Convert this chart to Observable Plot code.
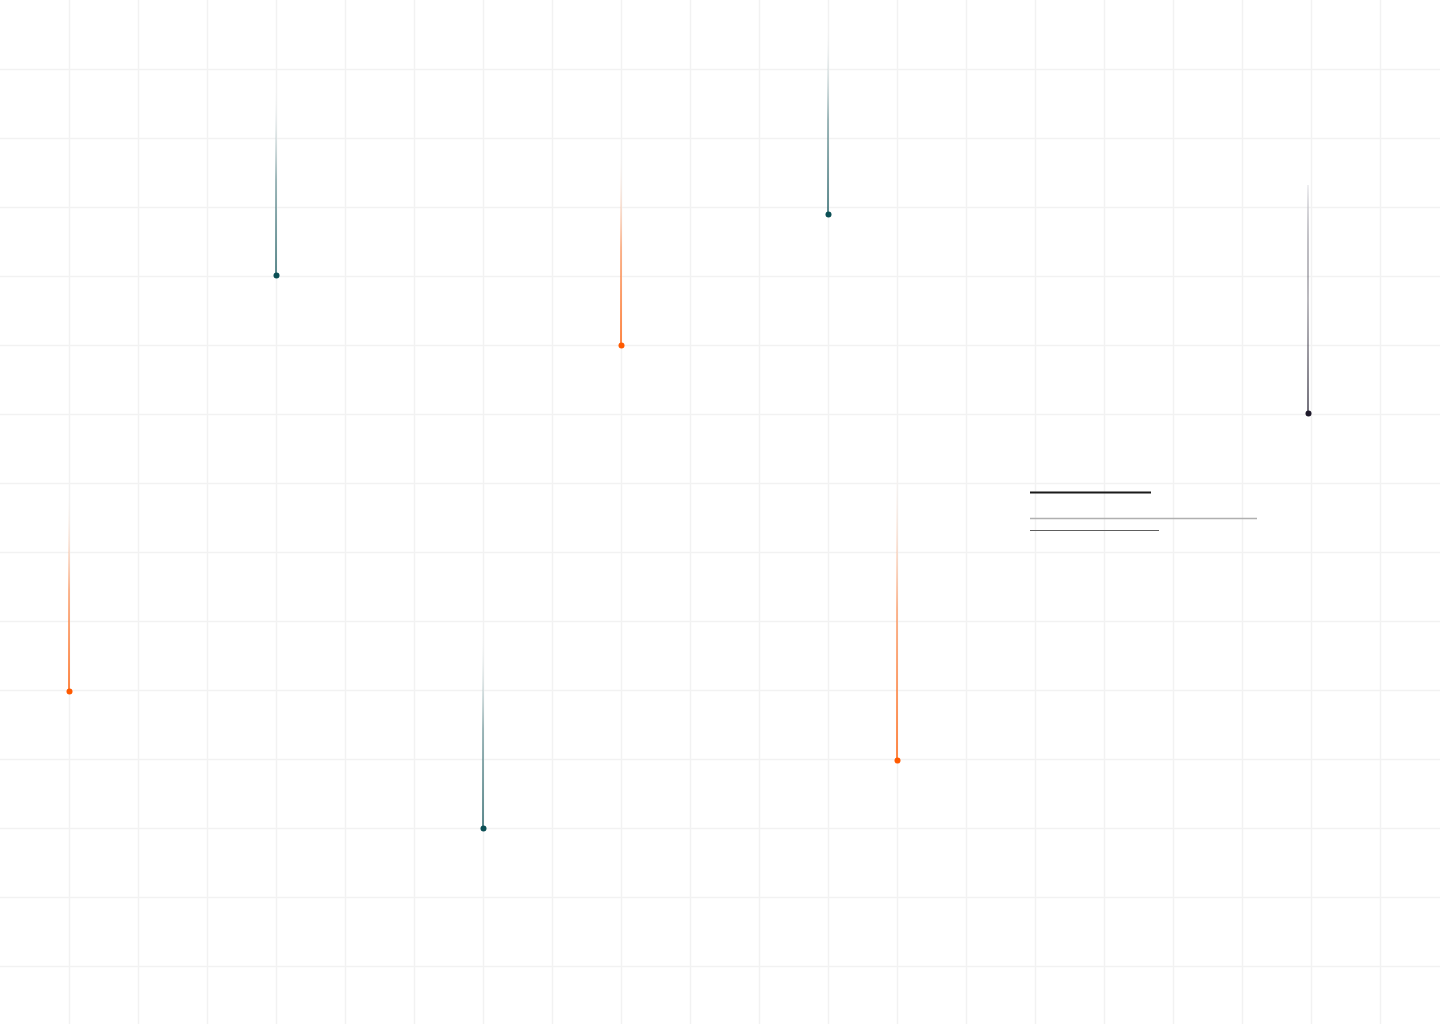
<!DOCTYPE html>
<html>
<head>
<meta charset="utf-8">
<script src="https://cdn.jsdelivr.net/npm/d3@7"></script>
<script src="https://cdn.jsdelivr.net/npm/@observablehq/plot@0.6"></script>
<style>
  html, body { margin: 0; padding: 0; background: #ffffff; overflow: hidden; }
  #chart svg { display: block; }
</style>
</head>
<body>
<div id="chart"></div>
<script>
// ---- data ----
const gridTicksX = [69, 138, 207, 276, 345, 414, 483, 552, 621, 690, 759, 828, 897, 966, 1035, 1104, 1173, 1242, 1311, 1380];
const gridTicksY = [69, 138, 207, 276, 345, 414, 483, 552, 621, 690, 759, 828, 897, 966];

const pointX    = [69, 276, 483, 621, 828, 897, 1308];
const pointY    = [691, 275, 828, 345, 214, 760, 413];
const pointTop  = [490, 85, 630, 150, 25, 460, 185];
const pointKind = ["orange", "teal", "teal", "orange", "teal", "orange", "dark"];

const kindColors = { orange: "#ff5a00", teal: "#0b4f55", dark: "#1e1a2b" };
const kindTopColors = { orange: "#ffffff", teal: "#ffffff", dark: "#e8e8ec" };
const kindTopOpacity = { orange: 0, teal: 0, dark: 0.7 };
const kindMidOpacity = { orange: 0.42, teal: 0.38, dark: 0.3 };
const kindBottomOpacity = { orange: 0.72, teal: 0.66, dark: 0.62 };

const barY     = [492, 518, 530];
const barX1    = [1030, 1030, 1030];
const barX2    = [1151, 1257, 1159];
const barColor = ["#1a1a1a", "#b0b0b0", "#5e5e5e"];
const barWidth = [2, 1.6, 1.1];

// ---- tables ----
const points = pointX.map((x, i) => ({ x, y: pointY[i], top: pointTop[i], kind: pointKind[i] }));
const bars = barY.map((y, i) => ({ y, x1: barX1[i], x2: barX2[i], color: barColor[i], w: barWidth[i] }));

const kinds = Object.keys(kindColors);

const marks = [
  Plot.ruleX(gridTicksX, { stroke: "#f2f2f2", strokeWidth: 1.5 }),
  Plot.ruleY(gridTicksY, { stroke: "#f2f2f2", strokeWidth: 1.5 }),
  ...kinds.map(k => Plot.rect(points.filter(d => d.kind === k), {
    x1: "x", x2: "x", y1: "top", y2: "y",
    insetLeft: -1, insetRight: -1,
    fill: `url(#grad-${k})`
  })),
  ...bars.map(b => Plot.ruleY([b], { y: "y", x1: "x1", x2: "x2", stroke: b.color, strokeWidth: b.w })),
  ...kinds.map(k => Plot.dot(points.filter(d => d.kind === k), {
    x: "x", y: "y", r: 3, fill: kindColors[k], stroke: "none"
  }))
];

const svg = Plot.plot({
  width: 1440,
  height: 1024,
  margin: 0,
  style: { background: "#ffffff", overflow: "hidden" },
  x: { domain: [0, 1440], range: [0, 1440], axis: null },
  y: { domain: [0, 1024], range: [0, 1024], axis: null },
  marks
});

// gradient definitions
const defs = d3.select(svg).insert("defs", ":first-child");
kinds.forEach(k => {
  const g = defs.append("linearGradient")
    .attr("id", `grad-${k}`)
    .attr("x1", 0).attr("y1", 0).attr("x2", 0).attr("y2", 1);
  g.append("stop").attr("offset", "0%")
    .attr("stop-color", kindTopColors[k]).attr("stop-opacity", kindTopOpacity[k]);
  g.append("stop").attr("offset", "50%")
    .attr("stop-color", kindColors[k]).attr("stop-opacity", kindMidOpacity[k]);
  g.append("stop").attr("offset", "100%")
    .attr("stop-color", kindColors[k]).attr("stop-opacity", kindBottomOpacity[k]);
});

document.getElementById("chart").appendChild(svg);
</script>
</body>
</html>
